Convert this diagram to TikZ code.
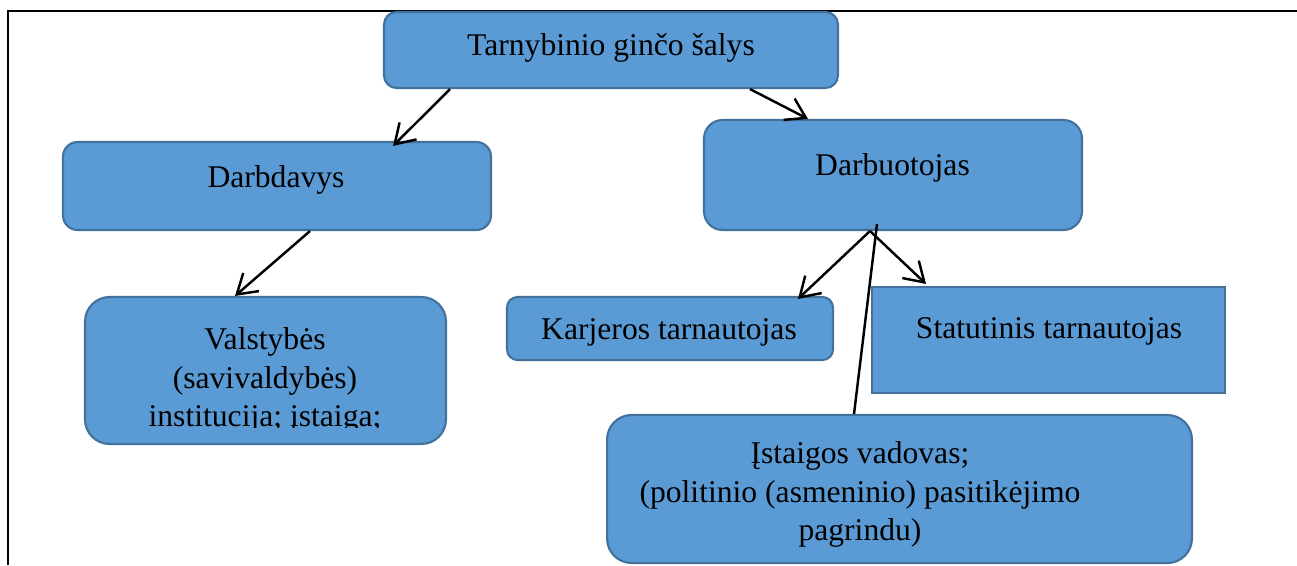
\documentclass[tikz,border=0pt]{standalone}
\usepackage{fontspec}
\setmainfont{Liberation Serif}
\usetikzlibrary{arrows.meta}
\definecolor{boxblue}{RGB}{91,155,213}
\definecolor{boxedge}{RGB}{65,113,156}
\tikzstyle{box}=[rectangle, draw=boxedge, fill=boxblue, line width=1.2pt, inner sep=0pt]
\tikzstyle{lbl}=[font=\fontsize{18}{22}\selectfont, align=center, inner sep=0pt]
\tikzstyle{link}=[line width=1.4pt, -{Straight Barb[length=3.8mm,width=4.8mm]}]

\begin{document}
\begin{tikzpicture}[x=0.02cm,y=-0.02cm]
\useasboundingbox (0,0) rectangle (1297,565);
% frame of the page
\draw[line width=1.6pt] (8,565) -- (8,11) -- (1297,11);

 \node[box, rounded corners=0.25cm, minimum width=9.08cm, minimum height=1.52cm] (top) at (611,50) {};
 \node[lbl, anchor=base] (top-t) at (611,55) {Tarnybinio ginčo šalys};

 \node[box, rounded corners=0.29cm, minimum width=8.56cm, minimum height=1.76cm] (darbdavys) at (277,186) {};
 \node[lbl, anchor=base] (darbdavys-t) at (276,187) {Darbdavys};

 \node[box, rounded corners=0.37cm, minimum width=7.56cm, minimum height=2.2cm] (darbuotojas) at (893,175) {};
 \node[lbl, anchor=base] (darbuotojas-t) at (892.5,175) {Darbuotojas};

 \node[box, rounded corners=0.49cm, minimum width=7.22cm, minimum height=2.94cm] (valstybes) at (265.5,370.5) {};
 % the last line is cut by the box
 \begin{scope}
 \clip (85,297) rectangle (446,427);
 \node[lbl] (valstybes-t) at (265,380.5) {Valstybės\\(savivaldybės)\\institucija; įstaiga;};
 \end{scope}

 \node[box, rounded corners=0.21cm, minimum width=6.52cm, minimum height=1.26cm] (karjeros) at (670,328.5) {};
 \node[lbl, anchor=base] (karjeros-t) at (669,339) {Karjeros tarnautojas};

 \node[box, minimum width=7.06cm, minimum height=2.12cm] (statutinis) at (1048.5,340) {};
 \node[lbl, anchor=base] (statutinis-t) at (1049,338) {Statutinis tarnautojas};

 \node[box, rounded corners=0.49cm, minimum width=11.7cm, minimum height=2.96cm] (istaigos) at (899.5,489) {};
 \node[lbl] (istaigos-t) at (860,494.5) {Įstaigos vadovas;\\(politinio (asmeninio) pasitikėjimo\\pagrindu)};

 % Now draw the arrows on top
 \draw[link] ([xshift=-3.22cm]top.south) -- ([xshift=2.32cm,yshift=-0.1cm]darbdavys.north);
 \draw[link] ([xshift=2.78cm]top.south) -- ([xshift=-1.70cm]darbuotojas.north);
 \draw[link] ([xshift=0.66cm]darbdavys.south) -- ([xshift=-0.61cm]valstybes.north);
 \draw[link] ([xshift=-0.46cm]darbuotojas.south) -- ([xshift=2.56cm,yshift=-0.06cm]karjeros.north);
 \draw[link] ([xshift=-0.46cm]darbuotojas.south) -- ([xshift=-2.45cm,yshift=0.04cm]statutinis.north);
 \draw[line width=1.4pt] ([xshift=-0.32cm,yshift=0.14cm]darbuotojas.south) -- ([xshift=-0.91cm]istaigos.north);
\end{tikzpicture}
\end{document}
